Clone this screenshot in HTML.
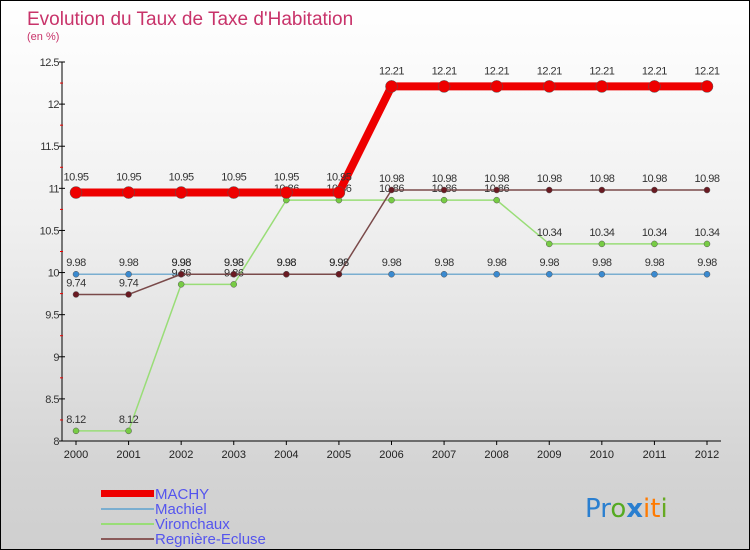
<!DOCTYPE html>
<html><head><meta charset="utf-8"><style>
body{margin:0}
#c{width:750px;height:550px;position:relative;box-sizing:border-box;border:1px solid #000;background:linear-gradient(#ffffff,#f0f0f0 40%,#d4d4d4 85%,#cfcfcf);font-family:"Liberation Sans",sans-serif;overflow:hidden}
</style></head><body>
<div id="c">
<svg id="s" width="750" height="550" style="position:absolute;left:0;top:0">
<text x="26" y="24" font-size="19" fill="#c8336a">Evolution du Taux de Taxe d'Habitation</text>
<text x="26" y="39" font-size="11" fill="#c8336a">(en %)</text>
<g id="axes"></g><g id="series"></g>
<g font-size="15" fill="#5555ee">
<rect x="100" y="489" width="53" height="7" fill="#ee0000"/>
<text x="154" y="498">MACHY</text>
<rect x="100" y="507" width="53" height="2" fill="#7aaed0"/>
<text x="154" y="513">Machiel</text>
<rect x="100" y="522" width="53" height="2" fill="#99dd77"/>
<text x="154" y="528">Vironchaux</text>
<rect x="100" y="537" width="53" height="2" fill="#8a5a5a"/>
<text x="154" y="543">Regnière-Ecluse</text>
</g>
<g font-size="26" font-family="'DejaVu Sans',sans-serif">
<text x="584" y="516"><tspan fill="#2a7fd0">Pr</tspan><tspan fill="#55aa22">o</tspan><tspan fill="#2a7fd0" font-weight="bold">x</tspan><tspan fill="#ff7a00">i</tspan><tspan fill="#ff7a00">t</tspan><tspan fill="#66aa22">i</tspan></text>
</g>
</svg>
</div>
<script>
const years=[2000,2001,2002,2003,2004,2005,2006,2007,2008,2009,2010,2011,2012];
const machy=[10.95,10.95,10.95,10.95,10.95,10.95,12.21,12.21,12.21,12.21,12.21,12.21,12.21];
const machiel=[9.98,9.98,9.98,9.98,9.98,9.98,9.98,9.98,9.98,9.98,9.98,9.98,9.98];
const vironchaux=[8.12,8.12,9.86,9.86,10.86,10.86,10.86,10.86,10.86,10.34,10.34,10.34,10.34];
const regniere=[9.74,9.74,9.98,9.98,9.98,9.98,10.98,10.98,10.98,10.98,10.98,10.98,10.98];
const yTicks=[8,8.5,9,9.5,10,10.5,11,11.5,12,12.5];
const NS="http://www.w3.org/2000/svg";
const X=i=>75+i*(706-75)/(years.length-1);
const Y=v=>440-(v-8)*(440-61)/4.5;
function mk(t,a,p){const e=document.createElementNS(NS,t);for(const k in a)e.setAttribute(k,a[k]);p.appendChild(e);return e;}
const ax=document.getElementById('axes');
const yl=mk('line',{x1:61,y1:61,x2:61,y2:440,stroke:'#000'},ax);


const xl=mk('line',{x1:61,y1:440,x2:720,y2:440,stroke:'#000'},ax);


yTicks.forEach(v=>{
 mk('line',{x1:58,y1:Y(v),x2:64,y2:Y(v),stroke:'#000'},ax);
 if(v<12.5)mk('line',{x1:59,y1:Y(v+0.25),x2:62,y2:Y(v+0.25),stroke:'#e00'},ax);
 const t=mk('text',{x:58,y:Y(v)+4,'font-size':11,'text-anchor':'end',fill:'#333','letter-spacing':'-0.5'},ax);
 t.textContent=String(v);
 
 
});
years.forEach((y,i)=>{
 mk('line',{x1:X(i),y1:440,x2:X(i),y2:444,stroke:'#000'},ax);
 const t=mk('text',{x:X(i),y:457,'font-size':11,'text-anchor':'middle',fill:'#222'},ax);
 t.textContent=String(y);
 
 
});
const sg=document.getElementById('series');
function series(name,vals,color,w,r,dot,labelOff){
 const g=mk('g',{},sg);
 
 
 const p=mk('polyline',{points:vals.map((v,i)=>X(i)+','+Y(v)).join(' '),fill:'none',stroke:color,'stroke-width':w,'stroke-linejoin':'round'},g);
 
 
 vals.forEach((v,i)=>{
  const c=mk('circle',{cx:X(i),cy:Y(v),r:r,fill:dot,stroke:'#555','stroke-width':0.5},g);
  
  
  const t=mk('text',{x:X(i),y:Y(v)-labelOff,'font-size':11,'text-anchor':'middle',fill:'#333','letter-spacing':'-0.5'},g);
  t.textContent=String(v);
  
  
 });
}
series('machiel',machiel,'#7aaed0',1.5,3,'#3a8ad0',8);
series('vironchaux',vironchaux,'#99dd77',1.5,3,'#77cc44',8);
series('regniere',regniere,'#7a4a4a',1.5,3,'#6a1a22',8);
series('machy',machy,'#ee0000',8,6,'#ee0000',12);
</script>
</body></html>
